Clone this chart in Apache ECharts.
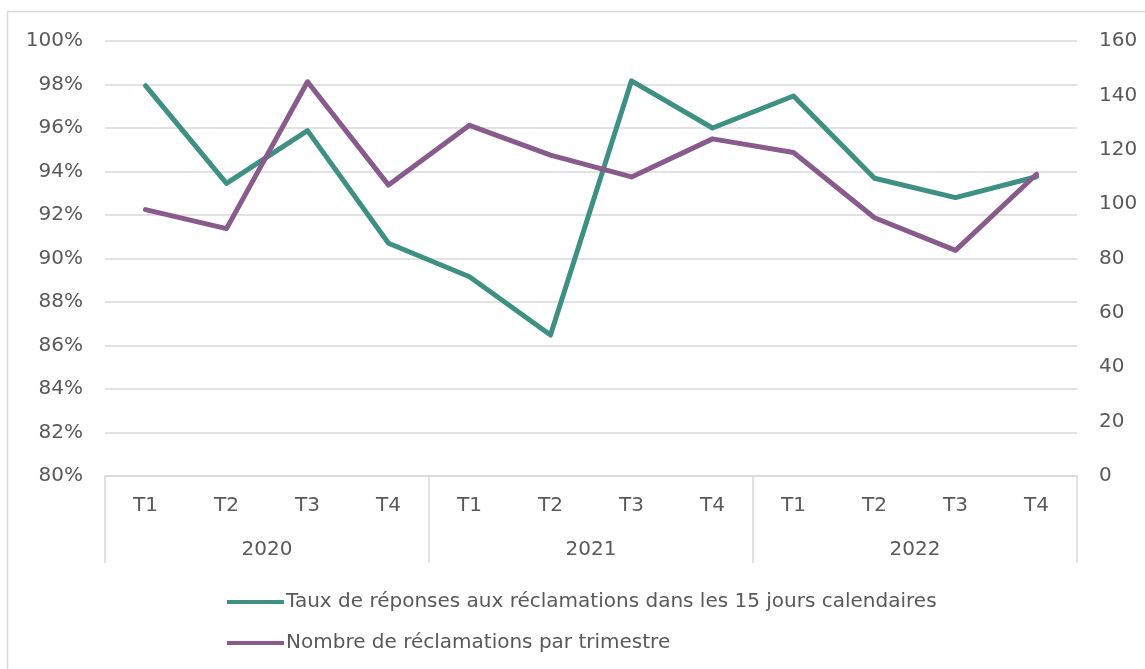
<!DOCTYPE html>
<html><head><meta charset="utf-8">
<script src="https://cdn.jsdelivr.net/npm/echarts@6/dist/echarts.min.js"></script>
<style>html,body{margin:0;padding:0;background:#fff}#c{width:1145px;height:669px}</style>
</head><body><div id="c"></div>
<script>
const quarters = ['T1','T2','T3','T4','T1','T2','T3','T4','T1','T2','T3','T4'];
const years = ['2020','2021','2022'];
const tauxReponses = [97.95, 93.45, 95.88, 90.7, 89.16, 86.48, 98.17, 96.0, 97.47, 93.69, 92.8, 93.76];
const nombreReclamations = [98, 91, 145, 107, 129, 118, 110, 124, 119, 95, 83, 111];
const leftTicks = {min: 80, max: 100, interval: 2};
const rightTicks = {min: 0, max: 160, interval: 20};
const name1 = 'Taux de réponses aux réclamations dans les 15 jours calendaires';
const name2 = 'Nombre de réclamations par trimestre';

const FONT = 'DejaVu Sans';
const FS = 20;
const TXT = '#595959';
const GRID = '#d9d9d9';
const chart = echarts.init(document.getElementById('c'));
chart.setOption({
  animation: false,
  textStyle: {fontFamily: FONT},
  grid: {left: 105, right: 68, top: 41, bottom: 193},
  graphic: [{type: 'rect', shape: {x: 7.5, y: 11.5, width: 1150, height: 670}, style: {fill: 'none', stroke: GRID, lineWidth: 1.5}, z: -1}],
  legend: [
    {data: [name1], left: 222, top: 587, icon: 'rect', itemWidth: 57, itemHeight: 4, itemGap: 0,
     textStyle: {color: TXT, fontSize: FS, fontFamily: FONT, padding: [0,0,0,-3]}},
    {data: [name2], left: 222, top: 628, icon: 'rect', itemWidth: 57, itemHeight: 4, itemGap: 0,
     textStyle: {color: TXT, fontSize: FS, fontFamily: FONT, padding: [0,0,0,-3]}}
  ],
  xAxis: [
    {type: 'category', data: quarters, boundaryGap: true, position: 'bottom',
     axisLine: {show: true, lineStyle: {color: GRID, width: 1.5}}, axisTick: {show: false},
     axisLabel: {color: TXT, fontSize: FS, margin: 20, fontFamily: FONT}},
    {type: 'category', data: years, boundaryGap: true, position: 'bottom',
     axisLine: {show: false}, axisTick: {show: true, length: 87, lineStyle: {color: GRID, width: 1.5}},
     axisLabel: {color: TXT, fontSize: FS, margin: 64, fontFamily: FONT}}
  ],
  yAxis: [
    {type: 'value', min: leftTicks.min, max: leftTicks.max, interval: leftTicks.interval,
     axisLabel: {formatter: '{value}%', color: TXT, fontSize: FS, margin: 22, fontFamily: FONT},
     axisLine: {show: false}, axisTick: {show: false},
     splitLine: {lineStyle: {color: GRID, width: 1.5}}},
    {type: 'value', min: rightTicks.min, max: rightTicks.max, interval: rightTicks.interval,
     axisLabel: {color: TXT, fontSize: FS, margin: 22, fontFamily: FONT},
     axisLine: {show: false}, axisTick: {show: false}, splitLine: {show: false}}
  ],
  series: [
    {name: name1, type: 'line', data: tauxReponses, xAxisIndex: 0, yAxisIndex: 0, symbol: 'none',
     itemStyle: {color: '#3e9084'}, lineStyle: {color: '#3e9084', width: 5, cap: 'round', join: 'round'}},
    {name: name2, type: 'line', data: nombreReclamations, xAxisIndex: 0, yAxisIndex: 1, symbol: 'none',
     itemStyle: {color: '#895a8c'}, lineStyle: {color: '#895a8c', width: 5, cap: 'round', join: 'round'}}
  ]
});
</script></body></html>
